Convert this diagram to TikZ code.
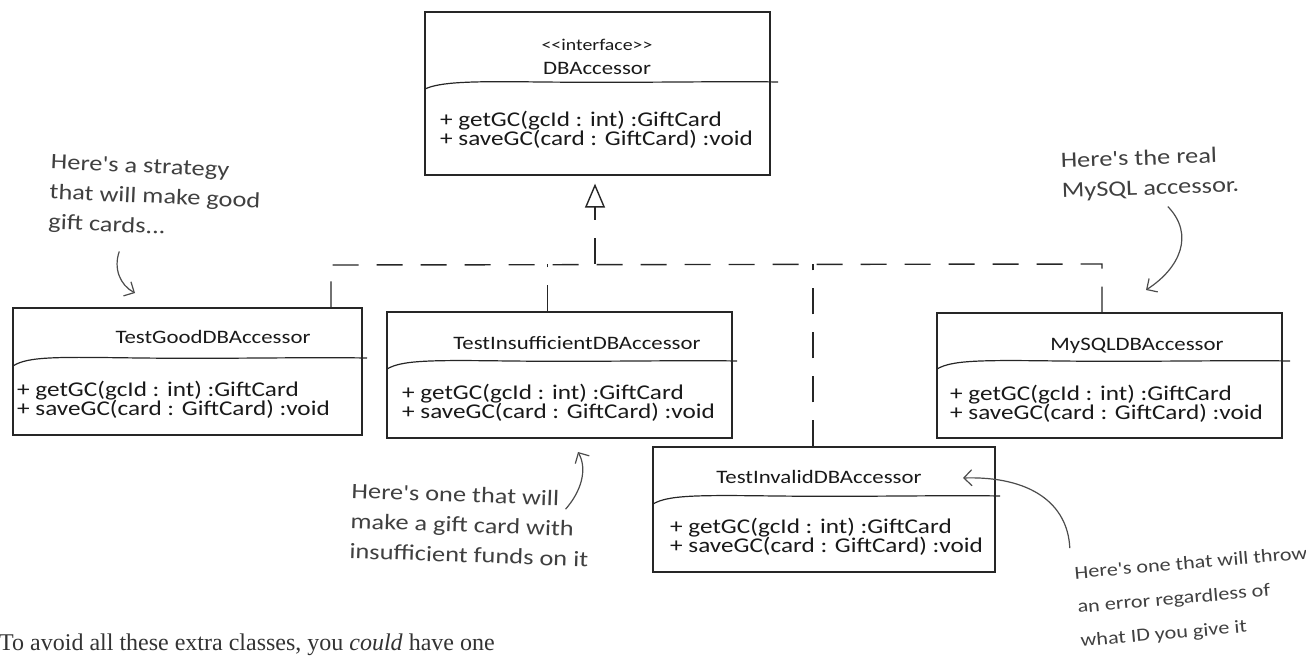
\documentclass[tikz,border=0pt]{standalone}
\usepackage{fontspec}
\newfontfamily\handfont[FakeStretch=1.2]{Carlito}
\newfontfamily\bookfont{Liberation Serif}
\usetikzlibrary{arrows.meta,positioning}

\tikzset{
  classbox/.style={draw=black!85, line width=1.3pt, inner sep=0pt},
  classname/.style={font=\handfont\fontsize{19}{19}\selectfont, text=black!90, inner sep=0pt},
  methods/.style={font=\handfont\fontsize{21}{19}\selectfont, align=left, anchor=west, inner sep=0pt, text=black!90},
  divider/.style={draw=black!85, line width=1.2pt},
  realize/.style={draw=black!85, line width=1.4pt, dash pattern=on 26pt off 18pt},
  note/.style={font=\handfont\fontsize{22}{30}\selectfont, align=left, text=black!75, inner sep=0pt},
  notearrow/.style={draw=black!70, line width=1.2pt, -{Straight Barb[length=8pt,width=16pt]}},
}

\begin{document}
\begin{tikzpicture}[x=1pt, y=-1pt]
    \useasboundingbox (0,0) rectangle (1306,660);

    % ==========================================
    % 1. INTERFACE DBAccessor
    % ==========================================
    \node[classbox, minimum width=345pt, minimum height=163pt] (iface) at (597.5,93.5) {};
    \node[classname, font=\handfont\fontsize{16.5}{16.5}\selectfont] (ifaceStereo) at (597,45) {<<interface>>};
    \node[classname] (ifaceName) at (597,68) {DBAccessor};
    \draw[divider] (425,89) .. controls (440,82) and (470,81) .. (540,82) .. controls (650,83) and (720,81) .. (778,82);
    \node[methods] (ifaceOps) at (440,130) {+ getGC(gcId : int) :GiftCard\\+ saveGC(card : GiftCard) :void};

    % ==========================================
    % 2. IMPLEMENTAZIONI
    % ==========================================
    % TestGoodDBAccessor
    \node[classbox, minimum width=349pt, minimum height=127pt] (good) at (187.5,371.5) {};
    \node[classname] (goodName) at (213,337) {TestGoodDBAccessor};
    \draw[divider] (13,366) .. controls (28,356) and (60,357) .. (140,358) .. controls (230,359) and (300,357) .. (367,358);
    \node[methods] (goodOps) at (17,400) {+ getGC(gcId : int) :GiftCard\\+ saveGC(card : GiftCard) :void};

    % TestInsufficientDBAccessor
    \node[classbox, minimum width=345pt, minimum height=126pt] (insuff) at (559.5,375) {};
    \node[classname] (insuffName) at (577,343) {TestInsufficientDBAccessor};
    \draw[divider] (387,369) .. controls (402,360) and (432,360) .. (510,361) .. controls (600,362) and (680,360) .. (737,361);
    \node[methods] (insuffOps) at (402,403) {+ getGC(gcId : int) :GiftCard\\+ saveGC(card : GiftCard) :void};

    % MySQLDBAccessor
    \node[classbox, minimum width=345pt, minimum height=125pt] (mysql) at (1109.5,375.5) {};
    \node[classname] (mysqlName) at (1137,346) {MySQLDBAccessor};
    \draw[divider] (937,369) .. controls (952,360) and (982,360) .. (1060,361) .. controls (1150,362) and (1230,360) .. (1290,361);
    \node[methods] (mysqlOps) at (950,404) {+ getGC(gcId : int) :GiftCard\\+ saveGC(card : GiftCard) :void};

    % TestInvalidDBAccessor
    \node[classbox, minimum width=342pt, minimum height=125pt] (invalid) at (824,509.5) {};
    \node[classname] (invalidName) at (819,477) {TestInvalidDBAccessor};
    \draw[divider] (653,504) .. controls (668,495) and (698,495) .. (776,496) .. controls (866,497) and (946,495) .. (1000,496);
    \node[methods] (invalidOps) at (670,537) {+ getGC(gcId : int) :GiftCard\\+ saveGC(card : GiftCard) :void};

    % ==========================================
    % 3. REALIZZAZIONE (linee tratteggiate)
    % ==========================================
    \coordinate (busL) at (331,265);
    \coordinate (busM) at (595,264);
    \coordinate (busR) at (1102,264);
    \draw[realize] (good.north -| busL) -- (busL) -- (busR) -- (mysql.north -| busR);
    \draw[realize] ([xshift=-12pt]insuff.north) -- ([xshift=-12pt]insuff.north |- busM);
    \draw[realize] ([xshift=-11pt]invalid.north) -- ([xshift=-11pt]invalid.north |- busM);
    \draw[realize, -{Triangle[open, length=24pt, width=20pt]}] (busM) -- ([yshift=-8pt]iface.south -| busM);

    % ==========================================
    % 4. NOTE A MANO
    % ==========================================
    \node[note, rotate=-2.5] (noteGood) at (155,198) {Here's a strategy\\that will make good\\gift cards...};
    \coordinate (tipGood) at (135,293);
    \draw[notearrow] ([xshift=-34pt,yshift=-14pt]noteGood.south) .. controls +(-6,17) and +(-15,-8) .. (tipGood);

    \node[note, rotate=2] (noteMySQL) at (1150,174) {Here's the real\\MySQL accessor.};
    \coordinate (tipMySQL) at (1146,290);
    \draw[notearrow] ([xshift=17pt,yshift=-8pt]noteMySQL.south) .. controls +(27,28) and +(34,-22) .. (tipMySQL);

    \node[note, rotate=-2] (noteInsuff) at (470,525) {Here's one that will\\make a gift card with\\insufficient funds on it};
    \coordinate (tipInsuff) at (578,452);
    \draw[notearrow] ([xshift=-24pt,yshift=20pt]noteInsuff.east) .. controls +(15,-17) and +(10,18) .. (tipInsuff);

    \node[note, font=\handfont\fontsize{18.5}{34}\selectfont, rotate=5] (noteInvalid) at (1194,598) {Here's one that will throw\\an error regardless of\\what ID you give it};
    \coordinate (tipInvalid) at (963,478);
    \draw[notearrow] ([xshift=-4pt,yshift=18pt]noteInvalid.north west) .. controls +(-2,-45) and +(67,-2) .. (tipInvalid);

    % testo in fondo
    \node[anchor=base west, inner sep=0pt, font=\bookfont\fontsize{24}{24}\selectfont, text=black!80] (caption) at (-1,650) {To avoid all these extra classes, you \textit{could} have one};

\end{tikzpicture}
\end{document}
